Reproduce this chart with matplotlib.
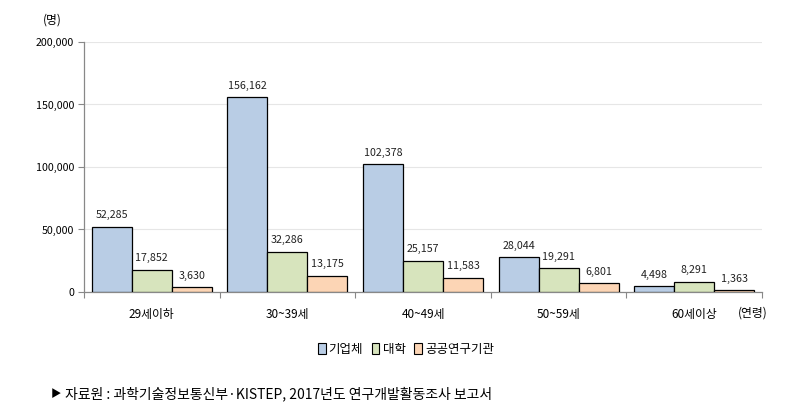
import matplotlib
matplotlib.use("Agg")
import matplotlib.pyplot as plt
import numpy as np
from matplotlib.patches import Patch

plt.rcParams['font.family'] = ['Noto Sans CJK KR', 'DejaVu Sans']

categories = ['29세이하', '30~39세', '40~49세', '50~59세', '60세이상']
series_names = ['기업체', '대학', '공공연구기관']
corp = [52285, 156162, 102378, 28044, 4498]
univ = [17852, 32286, 25157, 19291, 8291]
public = [3630, 13175, 11583, 6801, 1363]
colors = ['#B9CDE5', '#D7E4BD', '#FCD5B5']

fig = plt.figure(figsize=(7.9, 4.2), dpi=100)
ax = fig.add_axes([0.1063, 0.3048, 0.8583, 0.5952])

x = np.arange(len(categories))
w = 0.295
for i, (vals, c) in enumerate(zip([corp, univ, public], colors)):
    pos = x + (i - 1) * w
    ax.bar(pos, vals, width=w, color=c, edgecolor='black', linewidth=0.9, zorder=3)
    for p, v in zip(pos, vals):
        ax.text(p, v + 5000, f'{v:,}', ha='center', va='bottom', fontsize=7.7, color='#222222')

ax.set_xlim(-0.5, len(categories) - 0.5)
ax.set_ylim(0, 200000)
ax.set_yticks(np.arange(0, 200001, 50000))
ax.set_yticklabels([f'{v:,}' for v in range(0, 200001, 50000)], fontsize=7.7)
ax.yaxis.grid(True, color='#E6E6E6', linewidth=0.8, zorder=0)
ax.set_axisbelow(True)

ax.set_xticks(np.arange(-0.5, len(categories), 1.0))
ax.set_xticklabels([])
ax.tick_params(axis='x', length=4, color='#888888', direction='out')
ax.tick_params(axis='y', length=4, color='#888888', direction='out', pad=3)
for i, c in enumerate(categories):
    ax.text(i, -0.065, c, transform=ax.get_xaxis_transform(), ha='center', va='top', fontsize=8.5)

for s in ['top', 'right']:
    ax.spines[s].set_visible(False)
for s in ['left', 'bottom']:
    ax.spines[s].set_color('#888888')
    ax.spines[s].set_linewidth(0.9)

fig.text(0.066, 0.952, '(명)', ha='center', va='center', fontsize=8.5)
fig.text(0.953, 0.255, '(연령)', ha='center', va='center', fontsize=8.5)

handles = [Patch(facecolor=c, edgecolor='black', linewidth=0.8) for c in colors]
fig.legend(handles, series_names, loc='center', bbox_to_anchor=(0.514, 0.168), ncol=3,
           frameon=False, fontsize=9, handlelength=0.6, handleheight=0.9,
           handletextpad=0.25, columnspacing=0.7)

fig.text(0.064, 0.063, '▶', ha='left', va='center', fontsize=7.5)
fig.text(0.082, 0.063, '자료원 : 과학기술정보통신부·KISTEP, 2017년도 연구개발활동조사 보고서',
         ha='left', va='center', fontsize=10)

fig.savefig('out.png', dpi=100)
